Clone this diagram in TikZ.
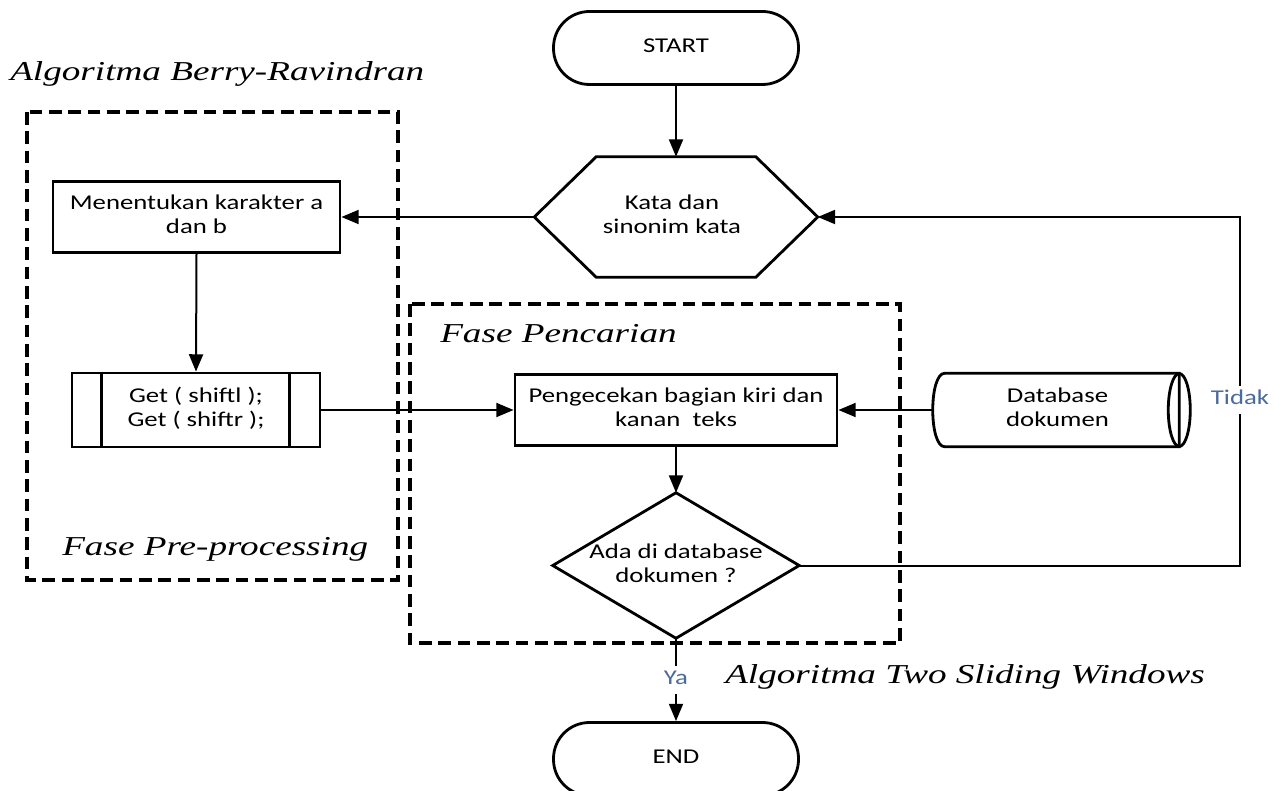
\documentclass[tikz,border=0pt]{standalone}
\usepackage{fontspec}
\setmainfont{Carlito}
\newfontfamily\ttlfont{Liberation Serif}
\usetikzlibrary{arrows.meta,calc}
\definecolor{lblblue}{RGB}{75,108,155}
\newcommand\fl[1]{\scalebox{1.27}[1]{\fontsize{15.8}{18}\selectfont\begin{tabular}{@{}c@{}}#1\end{tabular}}}
\newcommand\ttl[1]{\scalebox{1.36}[1]{\fontsize{20.5}{24}\selectfont\ttlfont\itshape #1}}
\begin{document}
\begin{tikzpicture}[x=0.75pt,y=-0.75pt,
  shp/.style={draw, line width=2.1pt, inner sep=0pt, align=center, fill=white},
  ghost/.style={inner sep=0pt, align=center},
  term/.style={shp, rectangle, rounded corners=27pt, minimum width=183.75pt, minimum height=54.75pt},
  boxn/.style={shp, rectangle},
  arr/.style={line width=1.5pt, -{Triangle[length=13pt,width=10.5pt]}},
  frame/.style={line width=2.3pt, dash pattern=on 9.5pt off 5pt},
  outl/.style={line width=2.1pt},
  lbl/.style={fill=white, text=lblblue, inner sep=1.5pt},
  title/.style={inner sep=0pt, anchor=base west}]
\useasboundingbox (0,0) rectangle (1281,791);
\fill[white] (0,0) rectangle (1281,791);

% group frames
\draw[frame] (27,112) rectangle (398,580);
\draw[frame] (410,304) rectangle (900,643);

% titles
\node[title] (t1) at (10,81) {\ttl{Algoritma Berry-Ravindran}};
\node[title] (t2) at (62,555) {\ttl{Fase Pre-processing}};
\node[title] (t3) at (440,343) {\ttl{Fase Pencarian}};
\node[title] (t4) at (725,683) {\ttl{Algoritma Two Sliding Windows}};

% nodes
\node[term] (start) at (676,48) {\fl{START}};

\node[ghost, minimum width=212.25pt, minimum height=90pt] (hex) at (676,217) {};
\draw[outl, fill=white] (hex.west) -- ([xshift=46.5pt]hex.north west) -- ([xshift=-46.5pt]hex.north east)
  -- (hex.east) -- ([xshift=-46.5pt]hex.south east) -- ([xshift=46.5pt]hex.south west) -- cycle;
\node[ghost] (hextxt) at ([xshift=-3pt]hex.center) {\fl{Kata dan\\sinonim kata}};

\node[boxn, minimum width=215.25pt, minimum height=53.25pt] (b1) at (196.5,217) {\fl{Menentukan karakter a\\dan b}};

\node[boxn, minimum width=186pt, minimum height=55.5pt] (pp) at (196,410) {\fl{Get ( shiftl );\\Get ( shiftr );}};
\draw[outl] ([xshift=23.25pt]pp.north west) -- ([xshift=23.25pt]pp.south west);
\draw[outl] ([xshift=-24pt]pp.north east) -- ([xshift=-24pt]pp.south east);

\node[boxn, minimum width=241.5pt, minimum height=53.25pt] (proc) at (676,410) {\fl{Pengecekan bagian kiri dan\\kanan\ \ teks}};

\node[ghost, minimum width=192.75pt, minimum height=54.75pt] (db) at (1061.5,410) {};
\draw[outl, fill=white] ([xshift=9pt]db.north west) .. controls ([xshift=-3pt]db.north west) and ([xshift=-3pt]db.south west) .. ([xshift=9pt]db.south west)
  -- ([xshift=-8.25pt]db.south east) -- ([xshift=-8.25pt]db.north east) -- cycle;
\draw[outl] ([xshift=-8.25pt]db.east) ellipse [x radius=8.25pt, y radius=27.375pt];
\node[ghost] (dbtxt) at ([xshift=-3pt]db.center) {\fl{Database\\dokumen}};

\node[ghost, minimum width=184.5pt, minimum height=108.75pt] (dia) at (676,565.5) {};
\draw[outl, fill=white] (dia.north) -- (dia.east) -- (dia.south) -- (dia.west) -- cycle;
\node[ghost] (diatxt) at (dia.center) {\fl{Ada di database\\dokumen ?}};

\node[term] (stop) at (676,759) {\fl{END}};

% connectors
\draw[arr] (start.south) -- (hex.north);
\draw[arr] (hex.west) -- (b1.east);
\draw[arr] (b1.south) -- (pp.north);
\draw[arr] (pp.east) -- (proc.west);
\draw[arr] (db.west) -- (proc.east);
\draw[arr] (proc.south) -- (dia.north);
\coordinate (c1) at (1240,565.5);
\coordinate (c2) at (1240,217);
\draw[arr] (dia.east) -- (c1) -- node[lbl, pos=0.475] (tidak) {\fl{Tidak}} (c2) -- (hex.east);
\draw[arr] (dia.south) -- node[lbl, pos=0.5] (ya) {\fl{Ya}} (stop.north);
\end{tikzpicture}
\end{document}
